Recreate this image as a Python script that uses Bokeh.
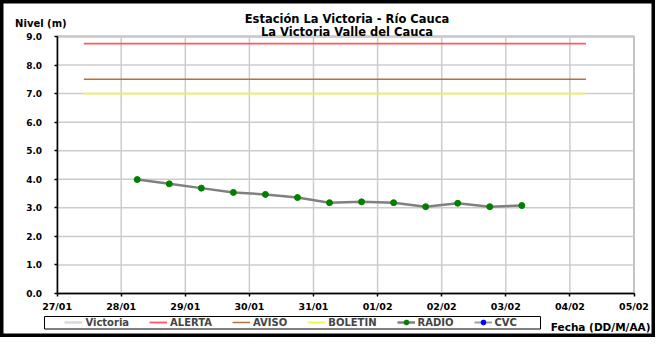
import pandas as pd
from bokeh.plotting import figure
from bokeh.models import (Range1d, FixedTicker, DatetimeTickFormatter, NumeralTickFormatter,
                          Legend, LegendItem, Label, BoxAnnotation, ColumnDataSource)
from bokeh.embed import file_html
from bokeh.resources import INLINE

# ---------------- data ----------------
title_line1 = "Estación La Victoria - Río Cauca"
title_line2 = "La Victoria Valle del Cauca"
y_title = "Nivel (m)"
x_title = "Fecha (DD/M/AA)"

radio_times = ["2012-01-28 06:00", "2012-01-28 18:00", "2012-01-29 06:00", "2012-01-29 18:00",
               "2012-01-30 06:00", "2012-01-30 18:00", "2012-01-31 06:00", "2012-01-31 18:00",
               "2012-02-01 06:00", "2012-02-01 18:00", "2012-02-02 06:00", "2012-02-02 18:00",
               "2012-02-03 06:00"]
radio_levels = [3.99, 3.84, 3.69, 3.54, 3.47, 3.36, 3.18, 3.21, 3.18, 3.04, 3.16, 3.04, 3.08]

# series shown in the legend only (no data in the period)
victoria_levels = [float("nan")]
cvc_levels = [float("nan")]

threshold_times = ["2012-01-27 10:00", "2012-02-04 06:00"]
alerta_level = 8.75
aviso_level = 7.5
boletin_level = 7.0

x_tick_dates = ["2012-01-27", "2012-01-28", "2012-01-29", "2012-01-30", "2012-01-31",
                "2012-02-01", "2012-02-02", "2012-02-03", "2012-02-04", "2012-02-05"]
y_ticks = [0, 1, 2, 3, 4, 5, 6, 7, 8, 9]

series_names = ["Victoria", "ALERTA", "AVISO", "BOLETIN", "RADIO", "CVC"]

# ---------------- layout geometry (pixels) ----------------
FONT = "DejaVu Sans"
CW, CH = 655, 337
chart_left, chart_right, chart_top, chart_bottom = 56.6, 633.5, 36.0, 293.0

tick_dt = pd.to_datetime(x_tick_dates)
tick_ms = [t.value / 1e6 for t in tick_dt]
x0, x1 = tick_ms[0], tick_ms[-1]
y0, y1 = y_ticks[0], y_ticks[-1]
sx = (x1 - x0) / (chart_right - chart_left)
sy = (y1 - y0) / (chart_bottom - chart_top)
x_range = Range1d(x0 - chart_left * sx, x1 + (CW - chart_right) * sx)
y_range = Range1d(y0 - (CH - chart_bottom) * sy, y1 + chart_top * sy)

p = figure(width=CW, height=CH, output_backend="svg", toolbar_location=None,
           x_axis_type="datetime", x_range=x_range, y_range=y_range, min_border=0)
p.title.text = ""
p.title.visible = False
p.background_fill_color = "white"
p.border_fill_color = "white"
p.outline_line_color = "black"
p.outline_line_width = 6
p.xgrid.visible = False
p.ygrid.visible = False

# axes drawn inside the frame at the chart origin
p.xaxis.fixed_location = y0
p.yaxis.fixed_location = x0
p.xaxis.bounds = (x0, x1)
p.yaxis.bounds = (y0, y1)
p.xaxis.ticker = FixedTicker(ticks=tick_ms)
p.xaxis.formatter = DatetimeTickFormatter(days="%d/%m", months="%d/%m", years="%d/%m",
                                          hours="%d/%m", hourmin="%d/%m")
p.yaxis.ticker = FixedTicker(ticks=y_ticks)
p.yaxis.formatter = NumeralTickFormatter(format="0.0")
for ax in (p.xaxis[0], p.yaxis[0]):
    ax.axis_line_color = "black"
    ax.axis_line_width = 1.5
    ax.major_tick_line_color = "black"
    ax.major_tick_line_width = 1.5
    ax.major_tick_out = 3
    ax.major_tick_in = 0
    ax.minor_tick_line_color = None
    ax.major_label_text_font = FONT
    ax.major_label_text_font_style = "bold"
    ax.major_label_text_color = "black"
p.xaxis.major_label_text_font_size = "9.5px"
p.yaxis.major_label_text_font_size = "9px"
p.yaxis.major_label_standoff = 12
p.xaxis.major_label_standoff = 4

# grid lines and chart-area border
p.segment(x0=tick_ms, y0=[y0] * len(tick_ms), x1=tick_ms, y1=[y1] * len(tick_ms),
          line_color="#cccccc", line_width=1.5)
p.segment(x0=[x0] * len(y_ticks), y0=y_ticks, x1=[x1] * len(y_ticks), y1=y_ticks,
          line_color="#cccccc", line_width=1.5)
p.add_layout(BoxAnnotation(left=x0, right=x1, bottom=y0, top=y1, fill_alpha=0,
                           line_color="#a6a6a6", line_width=2, line_alpha=1, level="underlay"))

# series
t_thr = pd.to_datetime(threshold_times)
t_empty = pd.to_datetime([x_tick_dates[0]])
r_vic = p.line(x=t_empty, y=victoria_levels, line_color="#d9d9d9", line_width=2.5)
r_alerta = p.line(x=t_thr, y=[alerta_level] * len(t_thr), line_color="#ff5a5a", line_width=1.8)
r_aviso = p.line(x=t_thr, y=[aviso_level] * len(t_thr), line_color="#b5713a", line_width=1.5)
r_bol = p.line(x=t_thr, y=[boletin_level] * len(t_thr), line_color="#f2f250", line_width=1.8)

src = ColumnDataSource(dict(t=pd.to_datetime(radio_times), v=radio_levels))
r_radio_l = p.line("t", "v", source=src, line_color="#808080", line_width=2.5)
r_radio_m = p.scatter("t", "v", source=src, size=6, fill_color="#008000", line_color="#008000")
r_cvc_l = p.line(x=t_empty, y=cvc_levels, line_color="#a0a0a0", line_width=2)
r_cvc_m = p.scatter(x=t_empty, y=cvc_levels, size=4, fill_color="#0000ff", line_color="#0000ff")

renderer_groups = [[r_vic], [r_alerta], [r_aviso], [r_bol], [r_radio_l, r_radio_m], [r_cvc_l, r_cvc_m]]
legend = Legend(items=[LegendItem(label=n, renderers=g) for n, g in zip(series_names, renderer_groups)],
                orientation="horizontal", location=(64.4, 8.7), glyph_width=18, glyph_height=12,
                label_height=12, label_standoff=3, spacing=20, padding=0, margin=0,
                border_line_alpha=0, background_fill_alpha=0,
                label_text_font=FONT, label_text_font_style="bold", label_text_font_size="10px")
p.add_layout(legend, "center")
p.add_layout(BoxAnnotation(left=44, right=540, top=21, bottom=8.5,
                           left_units="screen", right_units="screen",
                           top_units="screen", bottom_units="screen",
                           fill_alpha=0, line_color="black", line_width=1, line_alpha=1))

common = dict(x_units="screen", y_units="screen", text_font=FONT, text_font_style="bold",
              text_color="black", text_baseline="alphabetic")
p.add_layout(Label(x=346.5, y=CH - 18.0, text=title_line1, text_align="center",
                   text_font_size="11.5px", **common))
p.add_layout(Label(x=346.5, y=CH - 31.0, text=title_line2, text_align="center",
                   text_font_size="11.5px", **common))
p.add_layout(Label(x=14.6, y=CH - 23, text=y_title, text_align="left", text_font_size="10px", **common))
p.add_layout(Label(x=650, y=CH - 326.6, text=x_title, text_align="right", text_font_size="10.5px", **common))

open("out.html", "w").write(file_html(p, INLINE))
